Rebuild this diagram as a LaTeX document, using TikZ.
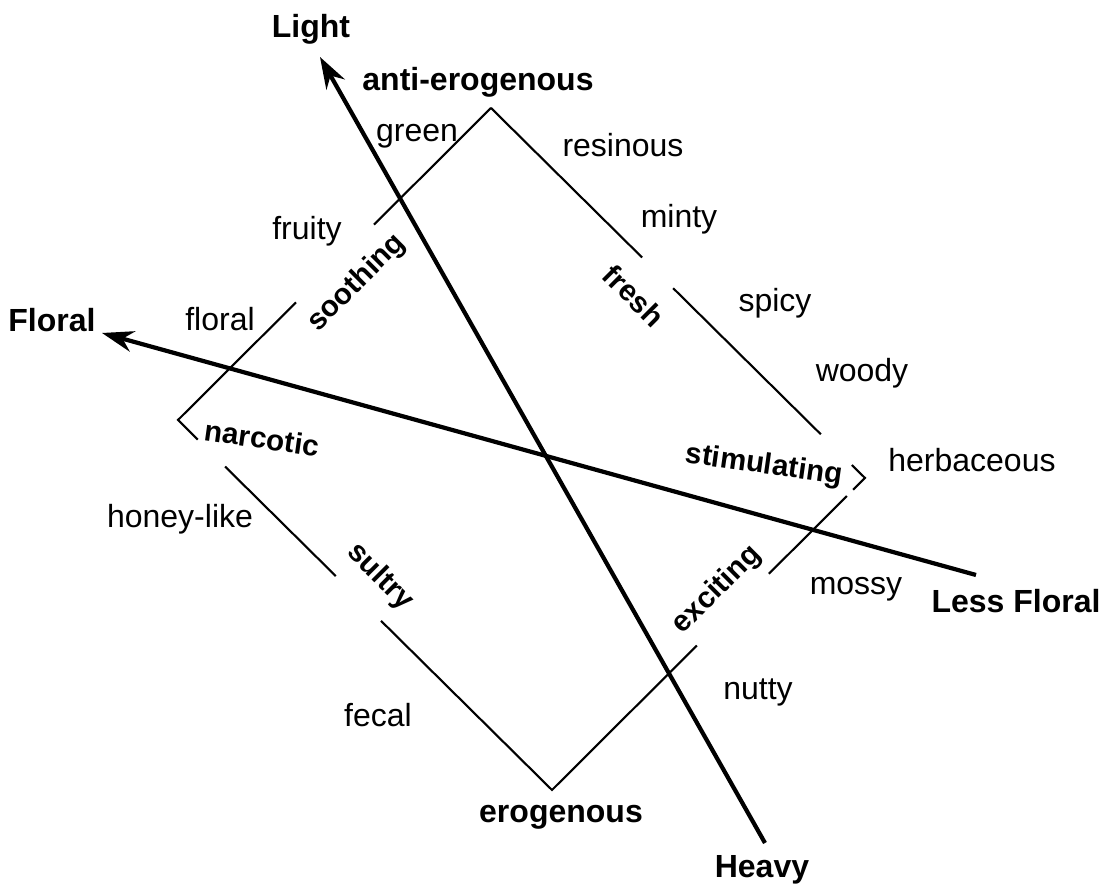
\documentclass[tikz,border=0pt]{standalone}
\usepackage{fontspec}
\setmainfont{Liberation Sans}
\usetikzlibrary{arrows.meta,positioning,calc}

\begin{document}
\begin{tikzpicture}[
    x=0.01cm, y=-0.01cm,
    >={Stealth[length=9pt,width=6pt]},
    note/.style={font=\fontsize{9.1}{11}\selectfont, anchor=base, inner sep=0pt},
    pole/.style={note, font=\fontsize{9.1}{11}\selectfont\bfseries},
    mood/.style={font=\fontsize{8.4}{10}\selectfont\bfseries, inner sep=0pt, rotate=#1},
    edge/.style={line width=0.6pt},
    axis/.style={->, line width=1.2pt},
]
\path[use as bounding box, fill=white] (0,0) rectangle (1108,886);

% corners of the square
\coordinate (Nc) at (491,108);
\coordinate (Wc) at (178,420);
\coordinate (Sc) at (552,790);
\coordinate (Ec) at (865,478);

% square, broken where the moods sit
\draw[edge] (Nc) -- ($(Nc)!0.374!(Wc)$);
\draw[edge] ($(Nc)!0.623!(Wc)$) -- (Wc) -- ($(Wc)!0.053!(Sc)$);
\draw[edge] ($(Wc)!0.126!(Sc)$) -- ($(Wc)!0.422!(Sc)$);
\draw[edge] ($(Wc)!0.543!(Sc)$) -- (Sc) -- ($(Sc)!0.463!(Ec)$);
\draw[edge] ($(Sc)!0.693!(Ec)$) -- ($(Sc)!0.942!(Ec)$);
\draw[edge] ($(Nc)!0.965!(Ec)$) -- (Ec) -- ($(Sc)!0.962!(Ec)$);
\draw[edge] ($(Nc)!0.487!(Ec)$) -- ($(Nc)!0.882!(Ec)$);
\draw[edge] (Nc) -- ($(Nc)!0.404!(Ec)$);

% moods on the sides
\node[mood=45] (soothing) at (357,283) {soothing};
\node[mood=-45] (fresh) at (634,296) {fresh};
\node[mood=-8] (narcotic) at (262,438) {narcotic};
\node[mood=-8] (stimulating) at (764,466) {stimulating};
\node[mood=-45] (sultry) at (380,577) {sultry};
\node[mood=45] (exciting) at (717,590) {exciting};

% odour notes
\node[note] (green) at (417,142) {green};
\node[note] (resinous) at (623,157) {resinous};
\node[note] (minty) at (679,228) {minty};
\node[note] (fruity) at (307,240) {fruity};
\node[note] (floralnote) at (220,331) {floral};
\node[note] (spicy) at (775,312) {spicy};
\node[note] (woody) at (862,382) {woody};
\node[note] (herbaceous) at (972,472) {herbaceous};
\node[note] (honey) at (180,528) {honey-like};
\node[note] (fecal) at (378,727) {fecal};
\node[note] (mossy) at (856,595) {mossy};
\node[note] (nutty) at (758,700) {nutty};

% poles
\node[pole] (antiero) at (478,91) {anti-erogenous};
\node[pole] (ero) at (561,823) {erogenous};

% axes
\coordinate (heavyend) at (765,843);
\coordinate (lighttip) at (320,57);
\coordinate (lessend) at (976,575);
\coordinate (floraltip) at (102,333);
\draw[axis] (heavyend) -- (lighttip);
\draw[axis] (lessend) -- (floraltip);

\node[pole] (light) at (311,38) {Light};
\node[pole] (heavy) at (762,878) {Heavy};
\node[pole] (floral) at (52,332) {Floral};
\node[pole] (lessfloral) at (1016,613) {Less Floral};

\end{tikzpicture}
\end{document}
